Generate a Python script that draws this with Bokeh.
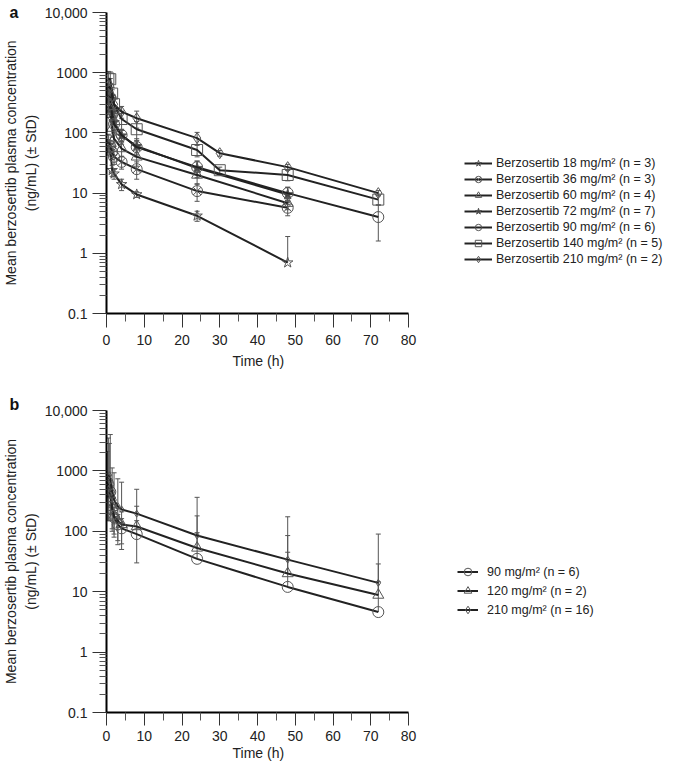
from bokeh.plotting import figure
from bokeh.models import (ColumnDataSource, Whisker, TeeHead, Legend, LegendItem,
                          FixedTicker, Title, Range1d)
from bokeh.layouts import column
from bokeh.embed import file_html
from bokeh.resources import INLINE

FONT = "Liberation Sans"
LINE = "#222222"
MARK = "#555555"

# ---------------- Panel a data ----------------
a_labels = ["Berzosertib 18 mg/m\u00b2 (n = 3)", "Berzosertib 36 mg/m\u00b2 (n = 3)",
            "Berzosertib 60 mg/m\u00b2 (n = 4)", "Berzosertib 72 mg/m\u00b2 (n = 7)",
            "Berzosertib 90 mg/m\u00b2 (n = 6)", "Berzosertib 140 mg/m\u00b2 (n = 5)",
            "Berzosertib 210 mg/m\u00b2 (n = 2)"]
a_markers = ["star", "circle_x", "triangle", "star", "circle", "square", "diamond"]
a_filled = [False, False, False, True, False, False, False]

t_18 = [0.5, 1, 1.5, 2, 4, 8, 24, 48]
c_18 = [62, 55, 24, 21, 14, 9.5, 4.2, 0.7]
sd_18 = [15, 12, 5, 4, 3, 1, 0.8, 1.2]

t_36 = [0.5, 1, 1.5, 2, 4, 8, 24, 48]
c_36 = [75, 60, 48, 40, 33, 25, 10.8, 5.7]
sd_36 = [20, 15, 12, 10, 8, 8, 3.5, 1.5]

t_60 = [0.5, 1, 1.5, 2, 4, 8, 24, 48]
c_60 = [280, 250, 120, 80, 55, 40, 20, 6.8]
sd_60 = [80, 70, 35, 20, 15, 12, 6, 1.5]

t_72 = [0.5, 1, 1.5, 2, 4, 8, 24, 48]
c_72 = [450, 400, 220, 150, 90, 60, 26, 9.5]
sd_72 = [150, 130, 70, 40, 25, 20, 8, 3]

t_90 = [0.5, 1, 1.5, 2, 4, 8, 24, 48, 72]
c_90 = [420, 380, 200, 140, 92, 58, 27, 10, 4]
sd_90 = [120, 110, 60, 40, 20, 15, 7, 2.5, 2.4]

t_140 = [0.5, 1, 1.5, 2, 4, 8, 24, 30, 48, 72]
c_140 = [800, 780, 450, 300, 170, 115, 52, 24, 20, 7.8]
sd_140 = [250, 250, 120, 80, 60, 40, 12, 3, 4, 1.5]

t_210 = [0.5, 1, 1.5, 2, 4, 8, 24, 30, 48, 72]
c_210 = [550, 600, 400, 300, 225, 175, 82, 46, 27, 10]
sd_210 = [200, 200, 120, 90, 50, 55, 20, 5, 3, 1]

a_series = [(t_18, c_18, sd_18), (t_36, c_36, sd_36), (t_60, c_60, sd_60),
            (t_72, c_72, sd_72), (t_90, c_90, sd_90), (t_140, c_140, sd_140),
            (t_210, c_210, sd_210)]

# ---------------- Panel b data ----------------
b_labels = ["90 mg/m\u00b2 (n = 6)", "120 mg/m\u00b2 (n = 2)", "210 mg/m\u00b2 (n = 16)"]
b_markers = ["circle", "triangle", "diamond"]
b_sizes = [11, 11, 7]

tb_90 = [0.25, 0.5, 1, 1.5, 2, 3, 4, 8, 24, 48, 72]
cb_90 = [520, 600, 450, 230, 170, 130, 112, 90, 35, 12, 4.6]
sdb_90 = [300, 350, 250, 120, 80, 60, 50, 60, 60, 33, 10]

tb_120 = [0.25, 0.5, 1, 1.5, 2, 3, 4, 8, 24, 48, 72]
cb_120 = [350, 450, 400, 250, 180, 150, 130, 120, 53, 20, 8.8]
sdb_120 = [200, 300, 250, 150, 100, 90, 80, 140, 127, 65, 20]

tb_210 = [0.25, 0.5, 0.75, 1, 1.5, 2, 3, 4, 8, 24, 48, 72]
cb_210 = [600, 800, 850, 700, 450, 330, 260, 230, 196, 85, 34, 14]
sdb_210 = [1500, 2700, 2000, 3300, 670, 600, 480, 420, 300, 280, 140, 76]

b_series = [(tb_90, cb_90, sdb_90), (tb_120, cb_120, sdb_120), (tb_210, cb_210, sdb_210)]

y_major = [0.1, 1, 10, 100, 1000, 10000]
y_major_labels = ["0.1", "1", "10", "100", "1000", "10,000"]
x_major = [0, 10, 20, 30, 40, 50, 60, 70, 80]

X_MAX = 80
AXIS_PX = 302          # pixel length of the 0-80 h axis
FRAME_W = 561          # frame extends to the right to host the legend


def make_fig(frame_h, top, bottom, tick_out_x, tick_standoff_x, letter, letter_standoff,
             xlabel_standoff):
    p = figure(frame_width=FRAME_W, frame_height=frame_h, output_backend="svg",
               toolbar_location=None, y_axis_type="log",
               x_range=Range1d(0, X_MAX * FRAME_W / AXIS_PX), y_range=Range1d(0.1, 10000),
               min_border_left=98, min_border_right=0, min_border_top=top,
               min_border_bottom=bottom)
    p.title = Title(text=letter, align="left", offset=-97, standoff=letter_standoff,
                    vertical_align="middle",
                    text_font=FONT, text_font_size="16px", text_font_style="bold",
                    text_color="#111111")
    p.outline_line_color = None
    p.grid.visible = False
    p.background_fill_color = "white"
    p.border_fill_color = "white"
    minor_y = [m * 10.0 ** e for e in range(-1, 4) for m in range(2, 10)]
    p.yaxis.ticker = FixedTicker(ticks=y_major, minor_ticks=minor_y)
    p.yaxis.major_label_overrides = {v: s for v, s in zip(y_major, y_major_labels)}
    p.xaxis.ticker = FixedTicker(ticks=x_major, minor_ticks=[v + 5 for v in x_major[:-1]])
    p.xaxis.bounds = (0, X_MAX)
    for ax in (p.xaxis[0], p.yaxis[0]):
        ax.axis_line_color = "black"
        ax.axis_line_width = 2
        ax.major_tick_line_color = "#333333"
        ax.minor_tick_line_color = "#555555"
        ax.major_tick_in = 0
        ax.minor_tick_in = 0
        ax.major_tick_out = 14
        ax.major_label_text_font = FONT
        ax.major_label_text_font_size = "14px"
        ax.major_label_text_color = "#222222"
        ax.axis_label_text_font = FONT
        ax.axis_label_text_font_size = "14px"
        ax.axis_label_text_font_style = "normal"
        ax.axis_label_text_color = "#222222"
    p.xaxis.major_tick_out = tick_out_x
    p.xaxis.minor_tick_out = 8
    p.yaxis.minor_tick_out = 7
    p.xaxis.major_label_standoff = tick_standoff_x
    p.yaxis.major_label_standoff = 5
    p.yaxis.axis_label_standoff = 3
    p.yaxis.axis_label = "Mean berzosertib plasma concentration\n(ng/mL) (\u00b1 StD)"
    p.add_layout(Title(text="Time (h)", align="left", offset=126, standoff=xlabel_standoff,
                       vertical_align="top", text_font=FONT, text_font_size="14px",
                       text_font_style="normal", text_color="#222222"), "below")
    return p


def add_errors(p, t, c, sd):
    hi = [ci + si for ci, si in zip(c, sd)]
    up = ColumnDataSource(dict(t=t, c=c, hi=hi))
    p.add_layout(Whisker(source=up, base="t", upper="hi", lower="c", dimension="height",
                         line_color=MARK, line_width=1,
                         upper_head=TeeHead(size=5, line_color=MARK, line_width=1),
                         lower_head=None))
    idx = [i for i in range(len(c)) if c[i] - sd[i] > 0]
    if idx:
        lo = ColumnDataSource(dict(t=[t[i] for i in idx], c=[c[i] for i in idx],
                                   lo=[c[i] - sd[i] for i in idx]))
        p.add_layout(Whisker(source=lo, base="t", upper="c", lower="lo", dimension="height",
                             line_color=MARK, line_width=1,
                             lower_head=TeeHead(size=5, line_color=MARK, line_width=1),
                             upper_head=None))


# ---------------- Panel a ----------------
pa = make_fig(301, 12, 83, 14, 7, "a", -18, 10)
items_a = []
for (t, c, sd), lab, mk, fl in zip(a_series, a_labels, a_markers, a_filled):
    add_errors(pa, t, c, sd)
    src = ColumnDataSource(dict(t=t, c=c))
    lr = pa.line("t", "c", source=src, line_color=LINE, line_width=2)
    sr = pa.scatter("t", "c", source=src, marker=mk, size=11, line_color=MARK, line_width=1,
                    fill_color="#444444" if fl else "white", fill_alpha=1 if fl else 0)
    items_a.append(LegendItem(label=lab, renderers=[lr, sr]))

leg_a = Legend(items=items_a, location=(358, 46), orientation="vertical",
               border_line_color=None, background_fill_alpha=0, padding=0, margin=0,
               spacing=0, glyph_width=28, glyph_height=16, label_height=16,
               label_standoff=4, label_text_font=FONT, label_text_font_size="12.5px",
               label_text_color="#222222")
pa.add_layout(leg_a)

# ---------------- Panel b ----------------
pb = make_fig(302, 14, 51, 13, 5, "b", -7, 2)
items_b = []
for (t, c, sd), lab, mk, sz in zip(b_series, b_labels, b_markers, b_sizes):
    add_errors(pb, t, c, sd)
    src = ColumnDataSource(dict(t=t, c=c))
    lr = pb.line("t", "c", source=src, line_color=LINE, line_width=2)
    sr = pb.scatter("t", "c", source=src, marker=mk, size=sz, line_color=MARK, line_width=1,
                    fill_color="white", fill_alpha=0)
    items_b.append(LegendItem(label=lab, renderers=[lr, sr]))

leg_b = Legend(items=items_b, location=(351, 93), orientation="vertical",
               border_line_color=None, background_fill_alpha=0, padding=0, margin=0,
               spacing=0, glyph_width=21, glyph_height=19, label_height=19,
               label_standoff=9, label_text_font=FONT, label_text_font_size="12.5px",
               label_text_color="#222222")
pb.add_layout(leg_b)

layout = column(pa, pb, spacing=0)
open("out.html", "w").write(file_html(layout, INLINE))
